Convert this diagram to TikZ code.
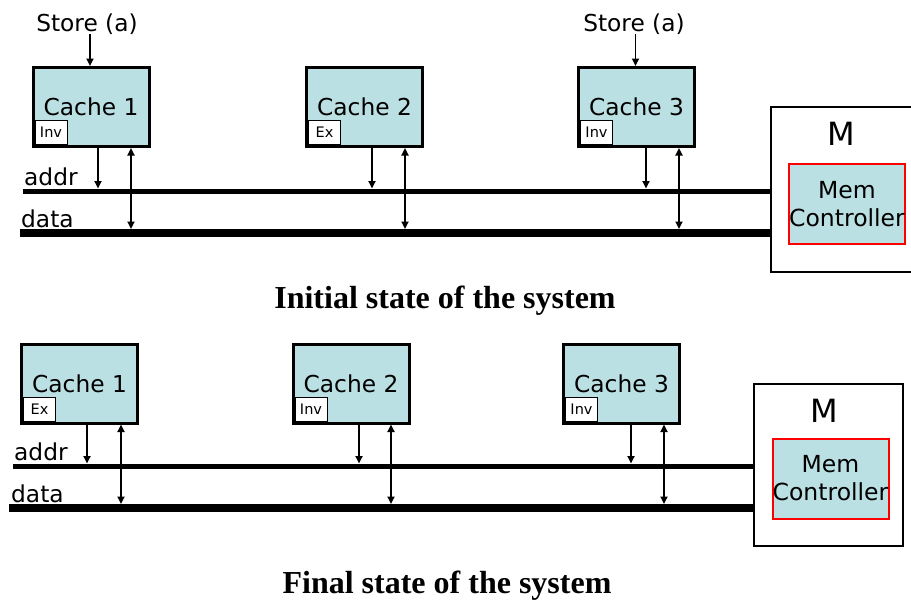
\documentclass[tikz,border=0pt]{standalone}
\usepackage{fontspec}
\setmainfont{DejaVu Sans}
\newfontfamily\titlefont{Liberation Serif}
\usetikzlibrary{arrows.meta}
\definecolor{cachefill}{RGB}{187,224,227}
\definecolor{memred}{RGB}{255,0,0}
\tikzset{
  cachebox/.style={draw, line width=3pt, fill=cachefill, minimum width=116pt, minimum height=79pt, inner sep=0pt, font=\fontsize{23.3}{28}\selectfont},
  statebox/.style={draw, line width=1pt, fill=white, minimum width=32pt, minimum height=24pt, inner sep=0pt, anchor=south west, font=\fontsize{14.5}{16}\selectfont},
  addrbus/.style={fill=black, draw=none, minimum height=5pt, inner sep=0pt, outer sep=0pt},
  databus/.style={fill=black, draw=none, minimum height=8pt, inner sep=0pt, outer sep=0pt},
  arr/.style={line width=1.7pt, -{Triangle[length=7.5pt,width=7pt]}},
  dbl/.style={line width=1.7pt, {Triangle[length=7.5pt,width=7pt]}-{Triangle[length=7.5pt,width=7pt]}},
  membox/.style={draw, line width=2pt, fill=white, inner sep=0pt},
  ctrlbox/.style={draw=memred, line width=2pt, fill=cachefill, minimum width=116pt, minimum height=80pt, inner sep=0pt, align=center, font=\fontsize{23.5}{28}\selectfont},
  lbl/.style={font=\fontsize{23.3}{28}\selectfont, inner sep=0pt},
  mlbl/.style={font=\fontsize{32}{36}\selectfont, inner sep=0pt, anchor=base},
  ttl/.style={font=\titlefont\bfseries\fontsize{32}{36}\selectfont, inner sep=0pt, anchor=base}
}
\begin{document}
\begin{tikzpicture}[x=1pt,y=-1pt]
\path[use as bounding box, clip] (0,0) rectangle (911,600);
\fill[white] (0,0) rectangle (911,600);

% ---------- Initial state ----------
\node[membox, minimum width=152pt, minimum height=165pt] (m1) at (847,189.5) {};
\node[mlbl] (mtxt1) at (841,145) {M};
\node[ctrlbox] (mc1) at (847,204) {Mem\\Controller};

\node[addrbus, minimum width=747pt] (a1) at (396.5,191) {};
\node[databus, minimum width=750pt] (d1) at (395,233) {};
\node[lbl, anchor=base west] (al1) at (24,185) {addr};
\node[lbl, anchor=base west] (dl1) at (21,227) {data};

\node[cachebox] (c11) at (91,107) {Cache 1};
\node[cachebox] (c12) at (364.5,107) {Cache 2};
\node[cachebox] (c13) at (636.5,107) {Cache 3};
\node[statebox] (s11) at ([xshift=3pt,yshift=3pt]c11.south west) {Inv};
\node[statebox] (s12) at ([xshift=3pt,yshift=3pt]c12.south west) {Ex};
\node[statebox] (s13) at ([xshift=3pt,yshift=3pt]c13.south west) {Inv};

\node[lbl, anchor=base] (st1) at (87,31) {Store (a)};
\node[lbl, anchor=base] (st3) at (634,31) {Store (a)};
\draw[arr] ([xshift=-1pt]c11.north |- st1.south) -- ([xshift=-1pt]c11.north);
\draw[arr] ([xshift=-1pt]c13.north |- st3.south) -- ([xshift=-1pt]c13.north);

\draw[arr] ([xshift=7pt]c11.south) -- ([xshift=7pt]c11.south |- a1.north);
\draw[dbl] ([xshift=40pt]c11.south) -- ([xshift=40pt]c11.south |- d1.north);
\draw[arr] ([xshift=7.5pt]c12.south) -- ([xshift=7.5pt]c12.south |- a1.north);
\draw[dbl] ([xshift=40.5pt]c12.south) -- ([xshift=40.5pt]c12.south |- d1.north);
\draw[arr] ([xshift=9.5pt]c13.south) -- ([xshift=9.5pt]c13.south |- a1.north);
\draw[dbl] ([xshift=42.5pt]c13.south) -- ([xshift=42.5pt]c13.south |- d1.north);

\node[ttl] (t1) at (445,308) {Initial state of the system};

% ---------- Final state ----------
\node[membox, minimum width=149pt, minimum height=162pt] (m2) at (828.5,465) {};
\node[mlbl] (mtxt2) at (824,422) {M};
\node[ctrlbox] (mc2) at (830.5,478.5) {Mem\\Controller};

\node[addrbus, minimum width=740pt] (a2) at (383,466) {};
\node[databus, minimum width=744pt] (d2) at (381,508) {};
\node[lbl, anchor=base west] (al2) at (14,460) {addr};
\node[lbl, anchor=base west] (dl2) at (11,502) {data};

\node[cachebox] (c21) at (79.5,383.5) {Cache 1};
\node[cachebox] (c22) at (351,383.5) {Cache 2};
\node[cachebox] (c23) at (621.5,383.5) {Cache 3};
\node[statebox] (s21) at ([xshift=3pt,yshift=3pt]c21.south west) {Ex};
\node[statebox] (s22) at ([xshift=3pt,yshift=3pt]c22.south west) {Inv};
\node[statebox] (s23) at ([xshift=3pt,yshift=3pt]c23.south west) {Inv};

\draw[arr] ([xshift=7.5pt]c21.south) -- ([xshift=7.5pt]c21.south |- a2.north);
\draw[dbl] ([xshift=41.5pt]c21.south) -- ([xshift=41.5pt]c21.south |- d2.north);
\draw[arr] ([xshift=8pt]c22.south) -- ([xshift=8pt]c22.south |- a2.north);
\draw[dbl] ([xshift=40pt]c22.south) -- ([xshift=40pt]c22.south |- d2.north);
\draw[arr] ([xshift=9.5pt]c23.south) -- ([xshift=9.5pt]c23.south |- a2.north);
\draw[dbl] ([xshift=42.5pt]c23.south) -- ([xshift=42.5pt]c23.south |- d2.north);

\node[ttl] (t2) at (447,593) {Final state of the system};
\end{tikzpicture}
\end{document}
